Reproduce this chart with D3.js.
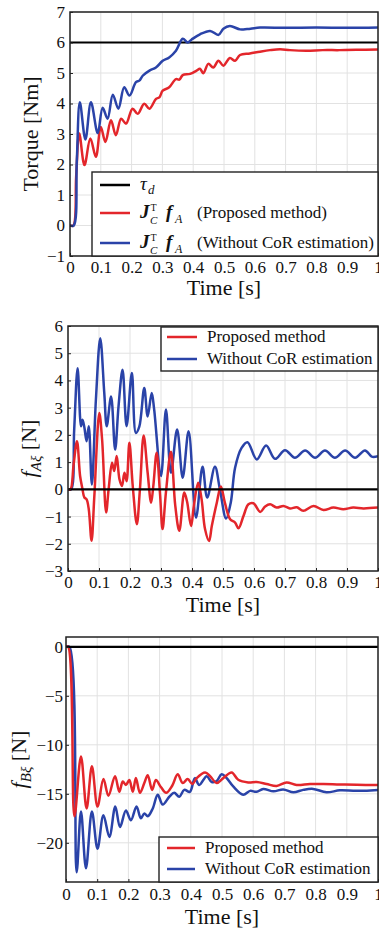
<!DOCTYPE html>
<html>
<head>
<meta charset="utf-8">
<script src="https://cdn.jsdelivr.net/npm/d3@7"></script>
<style>
  body { margin: 0; background: #fff; }
  svg text { font-family: "Liberation Serif", "Times New Roman", serif; fill: #111; }
</style>
</head>
<body>
<script>
// time axis is the same for all three plots
const timeTicks = [0, 0.1, 0.2, 0.3, 0.4, 0.5, 0.6, 0.7, 0.8, 0.9, 1];
const timeTickLabels = ["0", "0.1", "0.2", "0.3", "0.4", "0.5", "0.6", "0.7", "0.8", "0.9", "1"];

// top plot: torque [Nm]
const torqueTicks = [-1, 0, 1, 2, 3, 4, 5, 6, 7];
const torqueTarget = [[0, 6], [1, 6]];
const torqueProposed = [
  [0, 0], [0.011, 0], [0.02, 1.6], [0.03, 3.02], [0.047, 1.98], [0.066, 2.85], [0.084, 2.25],
  [0.1, 3.23], [0.115, 2.74], [0.133, 3.45], [0.149, 2.96], [0.166, 3.5], [0.182, 3.34],
  [0.203, 3.83], [0.22, 3.66], [0.241, 3.99], [0.258, 3.83], [0.279, 4.15], [0.29, 4.2],
  [0.301, 4.42], [0.322, 4.53], [0.344, 4.8], [0.355, 4.78], [0.366, 4.93], [0.39, 4.97],
  [0.411, 5.08], [0.422, 5.14], [0.433, 4.99], [0.449, 5.3], [0.465, 5.18], [0.482, 5.4],
  [0.498, 5.24], [0.519, 5.49], [0.536, 5.4], [0.552, 5.59], [0.584, 5.64], [0.617, 5.7],
  [0.649, 5.75], [0.682, 5.78], [0.714, 5.75], [0.768, 5.73], [0.82, 5.75], [0.875, 5.75],
  [0.93, 5.76], [1, 5.77]
];
const torqueNoCoR = [
  [0, 0], [0.012, 0], [0.022, 2.1], [0.032, 4.04], [0.05, 2.82], [0.068, 4.04], [0.09, 3.03],
  [0.106, 3.86], [0.122, 3.5], [0.139, 4.29], [0.157, 3.83], [0.176, 4.53], [0.193, 4.26],
  [0.214, 4.7], [0.225, 4.75], [0.236, 4.91], [0.258, 5.08], [0.279, 5.18], [0.301, 5.4],
  [0.322, 5.51], [0.344, 5.73], [0.366, 6.12], [0.382, 6.0], [0.395, 6.1], [0.422, 6.27],
  [0.455, 6.38], [0.482, 6.25], [0.498, 6.45], [0.519, 6.54], [0.552, 6.43], [0.575, 6.44],
  [0.617, 6.49], [0.7, 6.48], [0.8, 6.49], [0.9, 6.48], [1, 6.49]
];

// middle plot: f_A xi [N]
const fATicks = [-3, -2, -1, 0, 1, 2, 3, 4, 5, 6];
const fAZero = [[0, 0], [1, 0]];
const fAProposed = [
  [0, 0], [0.008, 0], [0.018, 0.9], [0.029, 1.77], [0.039, 0.49], [0.046, 0.05], [0.053, -0.3],
  [0.06, -0.37], [0.067, -0.73], [0.076, -1.89], [0.085, -0.24], [0.101, 2.8], [0.11, 1.83],
  [0.123, -0.85], [0.131, 0], [0.142, 0.98], [0.149, 0.67], [0.157, 1.22], [0.166, 0.37],
  [0.174, 0.12], [0.182, 0.61], [0.189, 0.3], [0.198, 1.71], [0.209, 0.1], [0.222, -1.28],
  [0.232, 0], [0.244, 1.98], [0.257, 0.6], [0.268, -0.49], [0.275, 0.1], [0.286, 1.34],
  [0.297, -0.2], [0.305, -1.46], [0.316, -0.1], [0.332, 1.38], [0.346, -0.6], [0.359, -1.52],
  [0.375, -0.12], [0.384, -0.45], [0.397, -1.35], [0.406, -0.6], [0.42, 0.24], [0.431, -0.37],
  [0.442, -1.46], [0.455, -1.9], [0.464, -1.34], [0.48, -0.49], [0.493, 0.1], [0.506, -0.49],
  [0.523, -1.1], [0.539, -1.22], [0.55, -1.43], [0.566, -0.98], [0.582, -0.55], [0.598, -0.51],
  [0.62, -0.83], [0.636, -0.63], [0.652, -0.55], [0.673, -0.67], [0.695, -0.61], [0.716, -0.7],
  [0.738, -0.66], [0.759, -0.79], [0.792, -0.61], [0.824, -0.76], [0.856, -0.67], [0.888, -0.73],
  [0.92, -0.67], [0.953, -0.7], [1, -0.67]
];
const fANoCoR = [
  [0, 0], [0.01, 0], [0.02, 2.2], [0.031, 4.45], [0.042, 2.32], [0.047, 2.56], [0.053, 2.26],
  [0.06, 1.77], [0.067, 2.32], [0.077, 0.18], [0.09, 3.29], [0.104, 5.55], [0.117, 3.54],
  [0.125, 2.32], [0.139, 3.41], [0.152, 1.46], [0.163, 3.05], [0.176, 4.39], [0.189, 2.32],
  [0.206, 4.27], [0.219, 2.07], [0.23, 2.3], [0.246, 3.72], [0.257, 2.68], [0.27, 3.54],
  [0.278, 2.93], [0.3, 0.49], [0.316, 2.93], [0.332, 0.61], [0.352, 2.2], [0.37, 0.43],
  [0.389, 2.13], [0.413, -1.04], [0.434, 0.83], [0.449, -0.3], [0.474, 0.83], [0.49, 0],
  [0.51, -1.07], [0.525, -0.49], [0.539, 0.79], [0.56, 1.52], [0.579, 1.73], [0.609, 1.1],
  [0.639, 1.61], [0.668, 1.12], [0.7, 1.44], [0.732, 1.16], [0.765, 1.43], [0.797, 1.16],
  [0.829, 1.43], [0.861, 1.16], [0.894, 1.43], [0.926, 1.16], [0.958, 1.43], [0.98, 1.2], [1, 1.22]
];

// bottom plot: f_B xi [N]
const fBTicks = [-20, -15, -10, -5, 0];
const fBZero = [[0, 0], [1, 0]];
const fBProposed = [
  [0, 0], [0.007, 0], [0.027, -17.3], [0.048, -11.2], [0.066, -16.5], [0.083, -12.2],
  [0.101, -16.3], [0.12, -13.5], [0.136, -15.2], [0.157, -13.2], [0.171, -14.8], [0.182, -13.75],
  [0.192, -14.1], [0.203, -13.6], [0.214, -14.8], [0.224, -13.4], [0.237, -14.9], [0.251, -13.9],
  [0.262, -13.1], [0.276, -14.6], [0.288, -13.6], [0.304, -14.3], [0.321, -14.9], [0.34, -14.2],
  [0.358, -13.0], [0.374, -13.9], [0.39, -13.5], [0.405, -14.0], [0.419, -13.4], [0.446, -12.83],
  [0.462, -13.2], [0.483, -13.9], [0.504, -13.4], [0.531, -12.83], [0.552, -13.57], [0.584, -13.84],
  [0.611, -13.8], [0.643, -14.0], [0.675, -14.2], [0.707, -13.84], [0.739, -14.1], [0.782, -14.0],
  [0.825, -14.0], [0.878, -14.05], [0.932, -14.08], [1, -14.1]
];
const fBNoCoR = [
  [0, 0], [0.011, 0], [0.034, -23], [0.048, -16.8], [0.064, -22.6], [0.083, -16.8], [0.101, -20.6],
  [0.12, -17.2], [0.139, -19.4], [0.158, -16.3], [0.173, -18.4], [0.192, -16.7], [0.208, -17.7],
  [0.226, -16.3], [0.24, -17.5], [0.251, -17.0], [0.262, -17.3], [0.278, -16.5], [0.294, -15.1],
  [0.31, -16.1], [0.331, -15.3], [0.347, -14.9], [0.363, -15.3], [0.379, -14.6], [0.397, -14.8],
  [0.413, -13.4], [0.427, -14.1], [0.451, -13.2], [0.467, -13.8], [0.483, -13.7], [0.499, -13.0],
  [0.515, -13.4], [0.536, -14.25], [0.568, -15.1], [0.59, -14.7], [0.611, -14.8], [0.632, -14.5],
  [0.665, -14.75], [0.696, -14.55], [0.729, -14.85], [0.76, -14.6], [0.792, -14.5], [0.835, -14.85],
  [0.878, -14.65], [0.932, -14.7], [1, -14.6]
];

const RED = "#e3262b";
const BLUE = "#2a43a8";
const BLACK = "#000";

const W = 379, H = 931;
const svg = d3.select("body").append("svg")
  .attr("width", W).attr("height", H);

let clipCount = 0;

function drawPanel(o) {
  const x = d3.scaleLinear().domain([0, 1]).range([o.left, 378]);
  const y = d3.scaleLinear().domain(o.yDomain).range([o.bottom, o.top]);
  const g = svg.append("g");

  // grid
  g.selectAll(".vgrid").data(timeTicks).enter().append("line")
    .attr("x1", d => x(d)).attr("x2", d => x(d))
    .attr("y1", o.top).attr("y2", o.bottom)
    .attr("stroke", "#e2e2e2").attr("stroke-width", 1);
  g.selectAll(".hgrid").data(o.yTicks).enter().append("line")
    .attr("x1", o.left).attr("x2", 378)
    .attr("y1", d => y(d)).attr("y2", d => y(d))
    .attr("stroke", "#e2e2e2").attr("stroke-width", 1);

  const clipId = "clip" + (clipCount++);
  svg.append("clipPath").attr("id", clipId).append("rect")
    .attr("x", o.left).attr("y", o.top)
    .attr("width", 378 - o.left).attr("height", o.bottom - o.top);

  const line = d3.line()
    .x(d => x(d[0])).y(d => y(d[1]))
    .curve(d3.curveCatmullRom.alpha(0.5));

  o.series.forEach(s => {
    g.append("path").datum(s.data)
      .attr("d", line)
      .attr("fill", "none")
      .attr("stroke", s.color)
      .attr("stroke-width", s.width)
      .attr("stroke-linejoin", "round")
      .attr("clip-path", "url(#" + clipId + ")");
  });

  // axes with small inward ticks
  const xAxis = d3.axisBottom(x).tickValues(timeTicks)
    .tickFormat((d, i) => timeTickLabels[i])
    .tickSizeInner(-3).tickSizeOuter(0).tickPadding(o.xPad);
  const ga = g.append("g").attr("transform", "translate(0," + o.bottom + ")").call(xAxis);
  const yAxis = d3.axisLeft(y).tickValues(o.yTicks)
    .tickSizeInner(-3).tickSizeOuter(0).tickPadding(o.yPad);
  const gy = g.append("g").attr("transform", "translate(" + o.left + ",0)").call(yAxis);
  [ga, gy].forEach(a => {
    a.select(".domain").remove();
    a.attr("font-family", null).attr("font-size", 17);
    a.selectAll("line").attr("stroke", "#222");
    a.selectAll("text").attr("fill", "#111");
  });

  // frame
  g.append("rect")
    .attr("x", o.left).attr("y", o.top)
    .attr("width", 378 - o.left).attr("height", o.bottom - o.top)
    .attr("fill", "none").attr("stroke", "#222").attr("stroke-width", 1.5);

  // x title
  g.append("text")
    .attr("x", (o.left + 378) / 2).attr("y", o.bottom + o.xTitleGap)
    .attr("text-anchor", "middle").attr("font-size", 22)
    .text("Time [s]");

  // y title
  const yt = g.append("text")
    .attr("transform", "translate(" + o.yTitleX + "," + (o.top + o.bottom) / 2 + ") rotate(-90)")
    .attr("text-anchor", "middle").attr("font-size", 22);
  o.yTitle(yt);

  // legend
  const L = o.legend;
  g.append("rect")
    .attr("x", L.x0).attr("y", L.y0)
    .attr("width", L.x1 - L.x0).attr("height", L.y1 - L.y0)
    .attr("fill", "#fff").attr("stroke", "#222").attr("stroke-width", 1.4);
  L.rows.forEach((r, i) => {
    const ly = L.y0 + L.rowY[i];
    g.append("line")
      .attr("x1", L.lineX[0]).attr("x2", L.lineX[1])
      .attr("y1", ly).attr("y2", ly)
      .attr("stroke", r.color).attr("stroke-width", 2.5);
    r.label(g, L.textX, ly + 5);
  });
}

function plainLabel(txt) {
  return (g, x, y) => g.append("text").attr("x", x).attr("y", y)
    .attr("font-size", 17).text(txt);
}

function tauLabel(g, x, y) {
  g.append("text").attr("x", x).attr("y", y).attr("font-size", 19)
    .attr("font-style", "italic").text("τ");
  g.append("text").attr("x", x + 8).attr("y", y + 4).attr("font-size", 13)
    .attr("font-style", "italic").text("d");
}

function jcfaLabel(note) {
  return (g, x, y) => {
    g.append("text").attr("x", x).attr("y", y).attr("font-size", 19)
      .attr("font-style", "italic").attr("font-weight", "bold").text("J");
    // stacked super/subscript
    g.append("text").attr("x", x + 10.5).attr("y", y - 7.5).attr("font-size", 10).text("T");
    g.append("text").attr("x", x + 10).attr("y", y + 6).attr("font-size", 11)
      .attr("font-style", "italic").text("C");
    g.append("text").attr("x", x + 26).attr("y", y).attr("font-size", 19)
      .attr("font-style", "italic").attr("font-weight", "bold").text("f");
    g.append("text").attr("x", x + 35).attr("y", y + 5).attr("font-size", 12)
      .attr("font-style", "italic").text("A");
    g.append("text").attr("x", x + 57).attr("y", y).attr("font-size", 17).text(note);
  };
}

function forceTitle(sub) {
  return t => {
    t.append("tspan").attr("font-style", "italic").text("f");
    t.append("tspan").attr("font-style", "italic").attr("font-size", 15).attr("dy", 5).text(sub);
    t.append("tspan").attr("dy", -5).text(" [N]");
  };
}

drawPanel({
  left: 70, top: 12, bottom: 256, yDomain: [-1, 7], yTicks: torqueTicks,
  xPad: 4.5, yPad: 5, xTitleGap: 39, yTitleX: 38,
  yTitle: t => t.text("Torque [Nm]"),
  series: [
    { data: torqueTarget, color: BLACK, width: 2.2 },
    { data: torqueProposed, color: RED, width: 2.5 },
    { data: torqueNoCoR, color: BLUE, width: 2.5 }
  ],
  legend: {
    x0: 92, y0: 172, x1: 378, y1: 256, rowY: [13, 41, 71], lineX: [100, 130], textX: 140,
    rows: [
      { color: BLACK, label: tauLabel },
      { color: RED, label: jcfaLabel("(Proposed method)") },
      { color: BLUE, label: jcfaLabel("(Without CoR estimation)") }
    ]
  }
});

drawPanel({
  left: 68, top: 326, bottom: 571, yDomain: [-3, 6], yTicks: fATicks,
  xPad: 4.5, yPad: 5, xTitleGap: 41, yTitleX: 36,
  yTitle: forceTitle("Aξ"),
  series: [
    { data: fANoCoR, color: BLUE, width: 2.5 },
    { data: fAProposed, color: RED, width: 2.5 },
    { data: fAZero, color: BLACK, width: 2.2 }
  ],
  legend: {
    x0: 161, y0: 327, x1: 378, y1: 371, rowY: [10, 32], lineX: [167, 197], textX: 207,
    rows: [
      { color: RED, label: plainLabel("Proposed method") },
      { color: BLUE, label: plainLabel("Without CoR estimation") }
    ]
  }
});

drawPanel({
  left: 66, top: 637, bottom: 882, yDomain: [-24, 1], yTicks: fBTicks,
  xPad: 6, yPad: 3, xTitleGap: 42, yTitleX: 26,
  yTitle: forceTitle("Bξ"),
  series: [
    { data: fBNoCoR, color: BLUE, width: 2.5 },
    { data: fBProposed, color: RED, width: 2.5 },
    { data: fBZero, color: BLACK, width: 2.2 }
  ],
  legend: {
    x0: 159, y0: 837, x1: 378, y1: 882, rowY: [11, 32], lineX: [167, 195], textX: 205,
    rows: [
      { color: RED, label: plainLabel("Proposed method") },
      { color: BLUE, label: plainLabel("Without CoR estimation") }
    ]
  }
});
</script>
</body>
</html>
